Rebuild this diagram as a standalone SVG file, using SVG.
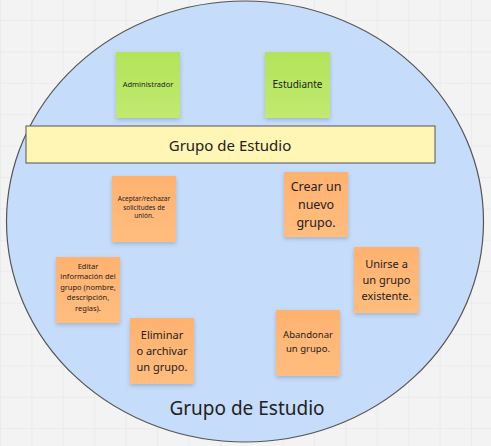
<svg xmlns="http://www.w3.org/2000/svg" width="491" height="446" viewBox="0 0 491 446">
<defs>
<pattern id="grid" width="31.4" height="31.4" patternUnits="userSpaceOnUse" x="0" y="20">
<rect width="31.4" height="31.4" fill="#f3f3f3"/>
<path d="M0 0H31.4M0 0V31.4" stroke="#e4e4e4" stroke-width="1" fill="none"/>
</pattern>
<linearGradient id="gGreen" x1="0" y1="0" x2="0" y2="1">
<stop offset="0" stop-color="#b3e35a"/>
<stop offset="1" stop-color="#c0ea70"/>
</linearGradient>
<linearGradient id="gOrange" x1="0" y1="0" x2="0" y2="1">
<stop offset="0" stop-color="#ffb270"/>
<stop offset="1" stop-color="#ffbd7e"/>
</linearGradient>
<filter id="sh" x="-20%" y="-20%" width="140%" height="150%">
<feDropShadow dx="0" dy="2" stdDeviation="2" flood-color="#000" flood-opacity="0.18"/>
</filter>
<style>
text{font-family:"Noto Sans","Open Sans","DejaVu Sans",sans-serif;fill:#222;text-anchor:middle}
.green{fill:url(#gGreen);filter:url(#sh)}
.orange{fill:url(#gOrange);filter:url(#sh)}
</style>
</defs>
<rect width="491" height="446" fill="url(#grid)"/>
<g id="circle">
<ellipse cx="245" cy="221.5" rx="238.5" ry="220.5" fill="#c6dcfb" stroke="#555" stroke-width="1.2"/>
<text x="247" y="415" font-size="19">Grupo de Estudio</text>
</g>
<g id="connectors"></g>
<g id="administrador">
<rect class="green" x="116" y="52" width="64" height="66"/>
<text x="148" y="87" font-size="7.5">Administrador</text>
</g>
<g id="estudiante">
<rect class="green" x="265" y="52" width="65" height="66"/>
<text x="297.5" y="88" font-size="10">Estudiante</text>
</g>
<g id="grupo-bar">
<rect x="26" y="126" width="409" height="37" fill="#fff6b5" stroke="#555" stroke-width="1"/>
<text x="230" y="151" font-size="15">Grupo de Estudio</text>
</g>
<g id="aceptar">
<rect class="orange" x="112" y="176" width="64" height="66"/>
<text font-size="6.5"><tspan x="144" y="201">Aceptar/rechazar</tspan><tspan x="144" y="209.5">solicitudes de</tspan><tspan x="144" y="218">unión.</tspan></text>
</g>
<g id="editar">
<rect class="orange" x="56" y="257" width="64" height="66"/>
<text font-size="7.5"><tspan x="88" y="268.5">Editar</tspan><tspan x="88" y="279">información del</tspan><tspan x="88" y="289.5">grupo (nombre,</tspan><tspan x="88" y="300">descripción,</tspan><tspan x="88" y="310.5">reglas).</tspan></text>
</g>
<g id="eliminar">
<rect class="orange" x="130" y="318" width="64" height="66"/>
<text font-size="11"><tspan x="162" y="339">Eliminar</tspan><tspan x="162" y="355">o archivar</tspan><tspan x="162" y="371">un grupo.</tspan></text>
</g>
<g id="crear">
<rect class="orange" x="284" y="172" width="64" height="65"/>
<text font-size="12.5"><tspan x="316" y="191">Crear un</tspan><tspan x="316" y="209">nuevo</tspan><tspan x="316" y="227">grupo.</tspan></text>
</g>
<g id="unirse">
<rect class="orange" x="354" y="247" width="65" height="66"/>
<text font-size="11"><tspan x="386.5" y="268">Unirse a</tspan><tspan x="386.5" y="284">un grupo</tspan><tspan x="386.5" y="300">existente.</tspan></text>
</g>
<g id="abandonar">
<rect class="orange" x="276" y="310" width="64" height="66"/>
<text font-size="9.5"><tspan x="308" y="338">Abandonar</tspan><tspan x="308" y="352">un grupo.</tspan></text>
</g>
</svg>
